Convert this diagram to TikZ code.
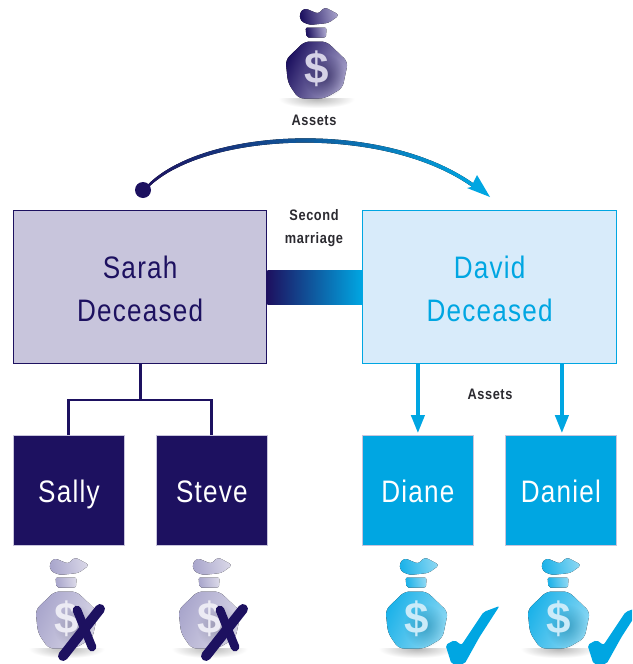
\documentclass[tikz,border=0pt]{standalone}
\usepackage{fontspec}
\usetikzlibrary{arrows.meta,fadings}
\setmainfont[FakeStretch=0.84,LetterSpace=4]{Liberation Sans}
\newfontfamily\dollarfont[Ligatures=TeX]{Liberation Sans}
\tikzfading[name=softblob,inner color=transparent!0,outer color=transparent!100]
\definecolor{navy}{HTML}{1D1160}
\definecolor{cyanb}{HTML}{00A6E2}
\definecolor{lav}{HTML}{C8C5DC}
\definecolor{pale}{HTML}{D8EBFA}
\definecolor{midb}{HTML}{0F5C9E}
\definecolor{txt}{HTML}{2B2A30}
\definecolor{tA}{HTML}{A9A4CC}\definecolor{tB}{HTML}{D5D2E6}
\definecolor{lA}{HTML}{A9A6CC}\definecolor{lB}{HTML}{DAD8E8}\definecolor{lC}{HTML}{ECEBF4}
\definecolor{bA}{HTML}{1CB2E9}\definecolor{bB}{HTML}{8ED8F3}\definecolor{bC}{HTML}{CBEBF9}
\tikzset{
  bigbox/.style={draw=#1,line width=1pt,align=center,inner sep=0pt,anchor=north west,font=\fontsize{23.3}{32.5}\selectfont},
  kidbox/.style={fill=#1,draw=lav,line width=.6pt,text=white,inner sep=0pt,anchor=north west,minimum width=83.25pt,minimum height=82.5pt,text height=18.5pt,text depth=0pt,font=\fontsize{23.3}{28}\selectfont},
  lbl/.style={text=txt,align=center,font=\bfseries\fontsize{11.4}{17.2}\selectfont},
  navyline/.style={draw=navy,line width=2.2pt},
  cyanarrow/.style={draw=cyanb,line width=2.5pt,shorten >=1.5pt,-{Triangle[length=13.5pt,width=10pt]}},
}
\newcommand{\moneybag}[6]{%
 \begin{scope}[shift={(#1,#2)}]
  \shade[inner color=black!28,outer color=white] (-38,90) rectangle (38,108);
  \fill[white] (-40,87) rectangle (40,98);
  \fill[left color=#3,right color=#4,shading angle=100,rounded corners=2.5pt]
    (-17,13)--(-12,8)--(2,14)--(8,7)--(23,15)--(12,23)--(-7,25)--(-16,21)--cycle;
  \fill[left color=#3,right color=#4,shading angle=100,rounded corners=1.5pt]
    (-11,27.5)--(10,27.5)--(9.5,37.5)--(-10,37.5)--cycle;
  \fill[left color=#3,middle color=#3!75!#4,right color=#4,shading angle=65,rounded corners=4pt]
    (-12,41.5)--(10,41.5)--(31.5,62)--(26,88)--(8,98.5)--(-18,98.5)--(-28.5,83)--(-31,60)--cycle;
  \fill[#3!70!black,opacity=.55,path fading=softblob] (8,76) ellipse (21 and 22);
  \node[text=#5,inner sep=0pt,font=\dollarfont\bfseries\fontsize{33}{33}\selectfont] (#6) at (0,69) {\$};
 \end{scope}}
\begin{document}
\begin{tikzpicture}[x=.75pt,y=-.75pt]
\useasboundingbox (0,0) rectangle (632,664);
\clip (0,0) rectangle (632,664);
\node[bigbox=navy,fill=lav,text=navy,minimum width=189.75pt,minimum height=114.75pt] (sarah) at (13,210) {\rule{0pt}{19.2pt}Sarah\\Deceased};
\node[bigbox=cyanb,fill=pale,text=cyanb,minimum width=190.5pt,minimum height=114.75pt] (david) at (362,210) {\rule{0pt}{19.2pt}David\\Deceased};
\node[kidbox=navy] (sally) at (13,435) {Sally};
\node[kidbox=navy] (steve) at (156,435) {Steve};
\node[kidbox=cyanb] (diane) at (362,435) {Diane};
\node[kidbox=cyanb] (daniel) at (505,435) {Daniel};
% marriage bar
\shade[left color=navy,right color=cyanb] (sarah.east |- 0,270) rectangle (david.west |- 0,304);
\node[lbl] (second) at (314,228) {Second\\marriage};
\node[lbl] (assetsT) at (314,120.5) {Assets};
\node[lbl] (assetsB) at (490,394.5) {Assets};
% family lines
\coordinate (fork) at (sarah.south |- 0,400);
\draw[navyline] (sarah.south) -- (fork);
\draw[navyline] (sally.north) |- (fork) -| (steve.north);
\draw[cyanarrow] (diane.north |- david.south) -- (diane.north);
\coordinate (danieltop) at ([xshift=.75pt]daniel.north);
\draw[cyanarrow] (danieltop |- david.south) -- (danieltop);
% assets arc
\coordinate (arcstart) at (143,190);
\coordinate (arcend) at (490,197);
\fill[left color=navy,right color=cyanb,middle color=midb]
  (arcstart) .. controls (195,127) and (385,117) .. (477,186)
  -- (475,189) .. controls (385,122) and (197,132) .. (145,191) -- cycle;
\fill[navy] (arcstart) circle (8);
\fill[cyanb] (arcend) -- (477,175) -- (473,183) -- (471,187) -- (467,188) -- cycle;
% bags
\moneybag{316.5}{0}{navy}{tA}{tB}{bagtop}
\moneybag{66.5}{550}{lA}{lB}{lC}{bagsally}
\moneybag{209.5}{550}{lA}{lB}{lC}{bagsteve}
\moneybag{416.5}{550}{bA}{bB}{bC}{bagdiane}
\moneybag{558.5}{550}{bA}{bB}{bC}{bagdaniel}
% crosses
\foreach \dx in {0,143}{
  \begin{scope}[xshift=\dx*.75pt]
   \draw[navy,line width=7.5pt,line cap=round] (100,609) -- (63,656);
   \draw[navy,line width=6.5pt,line cap=round] (77,610) -- (92,647);
  \end{scope}}
% ticks
\foreach \bx in {416.5,558.5}{
  \fill[cyanb,rounded corners=1.5pt] (\bx+83,606) -- (\bx+67,612) -- (\bx+45,645) -- (\bx+38,640) -- (\bx+29,645) -- (\bx+35,664) -- (\bx+48,664) -- (\bx+63,637) -- cycle;
}
\end{tikzpicture}
\end{document}
